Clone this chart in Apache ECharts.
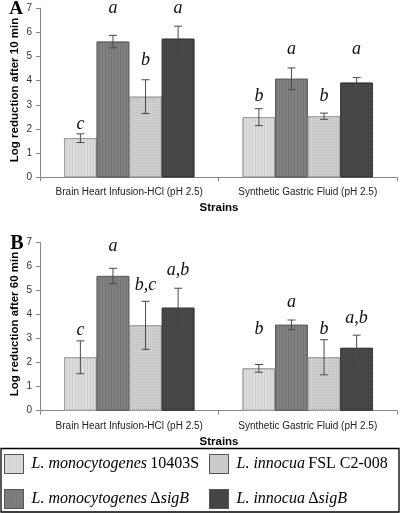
<!DOCTYPE html>
<html><head><meta charset="utf-8">
<script src="https://cdn.jsdelivr.net/npm/echarts@6/dist/echarts.min.js"></script>
<style>html,body{margin:0;padding:0;background:#fff}#c{width:400px;height:513px}</style>
</head><body><div id="c"></div>
<script>
const categories = ['Brain Heart Infusion-HCl (pH 2.5)', 'Synthetic Gastric Fluid (pH 2.5)'];
const strains = ['L. monocytogenes 10403S', 'L. monocytogenes ΔsigB', 'L. innocua FSL C2-008', 'L. innocua ΔsigB'];
const yTicks = [0, 1, 2, 3, 4, 5, 6, 7];

// Panel A: 10 min
const valuesA = [[1.62, 2.49], [5.62, 4.08], [3.34, 2.53], [5.74, 3.92]];
const errorsA = [[0.18, 0.35], [0.26, 0.45], [0.70, 0.13], [0.52, 0.21]];
const lettersA = [['c', 'b'], ['a', 'a'], ['b', 'b'], ['a', 'a']];
const letterYA = [[2.21, 3.34], [7.01, 5.31], [4.83, 3.34], [7.01, 5.31]];
// Panel B: 60 min
const valuesB = [[2.22, 1.76], [5.60, 3.57], [3.55, 2.22], [4.28, 2.61]];
const errorsB = [[0.68, 0.16], [0.32, 0.20], [1.00, 0.73], [0.81, 0.53]];
const lettersB = [['c', 'b'], ['a', 'a'], ['b,c', 'b'], ['a,b', 'a,b']];
const letterYB = [[3.35, 3.37], [6.83, 4.51], [5.21, 3.37], [5.82, 3.84]];

const colors = ['#dcdcdc', '#808080', '#d2d2d2', '#4a4a4a'];
const borders = ['#999999', '#5a5a5a', '#999999', '#333333'];
const decals = [
  {symbol: 'rect', symbolSize: 1, color: 'rgba(185,185,185,0.4)', dashArrayX: [1, 2], dashArrayY: [1, 0], rotation: 0},
  {symbol: 'rect', symbolSize: 1, color: 'rgba(100,100,100,0.4)', dashArrayX: [1, 2], dashArrayY: [1, 0], rotation: 0},
  {symbol: 'rect', symbolSize: 1, color: 'rgba(160,160,160,0.55)', dashArrayX: [1, 1], dashArrayY: [1, 1], rotation: 0},
  {symbol: 'rect', symbolSize: 1, color: 'rgba(40,40,40,0.45)', dashArrayX: [1, 1], dashArrayY: [1, 1], rotation: 0}
];
const GAP = 0.27;
const sans = 'Liberation Sans, Arial, sans-serif';
const serif = 'Liberation Serif, Times New Roman, serif';

function xAxisFor(gi) {
  return {
    type: 'category', gridIndex: gi, data: categories,
    axisLine: {lineStyle: {color: '#888'}},
    axisTick: {show: true, length: 4, lineStyle: {color: '#888'}},
    axisLabel: {interval: 0, fontFamily: sans, fontSize: 10, color: '#222', margin: gi === 0 ? 10 : 11}
  };
}
function yAxisFor(gi) {
  return {
    type: 'value', gridIndex: gi, min: yTicks[0], max: yTicks[yTicks.length - 1], interval: 1,
    splitLine: {show: false},
    axisLine: {show: true, lineStyle: {color: '#888'}},
    axisTick: {show: true, length: 4, lineStyle: {color: '#888'}},
    axisLabel: {fontFamily: sans, fontSize: 10, color: '#333', margin: 8}
  };
}

const series = [];
function addPanel(gi, values, errors, letters, letterY) {
  for (let s = 0; s < 4; s++) {
    series.push({
      type: 'bar', name: strains[s], xAxisIndex: gi, yAxisIndex: gi,
      data: values[s], barGap: 0, barCategoryGap: (GAP * 100) + '%',
      itemStyle: {color: colors[s], borderColor: borders[s], borderWidth: 0.8, decal: decals[s]},
      emphasis: {disabled: true}, animation: false
    });
  }
  for (let s = 0; s < 4; s++) {
    const data = values[s].map((v, i) => [i, v, errors[s][i], letterY[s][i]]);
    series.push({
      type: 'custom', xAxisIndex: gi, yAxisIndex: gi, z: 5, clip: false, animation: false,
      encode: {x: 0, y: 1},
      data: data,
      renderItem: function (params, api) {
        const i = api.value(0), v = api.value(1), e = api.value(2), ly = api.value(3);
        const base = api.coord([i, 0]);
        const catW = api.size([1, 0])[0];
        const bw = catW * (1 - GAP) / 4;
        const cx = base[0] + (s - 1.5) * bw;
        const yt = api.coord([i, v + e])[1];
        const yb = api.coord([i, v - e])[1];
        const yl = api.coord([i, ly])[1];
        const st = {stroke: '#4a4a4a', lineWidth: 1};
        const cap = 4;
        return {type: 'group', children: [
          {type: 'line', shape: {x1: cx, y1: yt, x2: cx, y2: yb}, style: st},
          {type: 'line', shape: {x1: cx - cap, y1: yt, x2: cx + cap, y2: yt}, style: st},
          {type: 'line', shape: {x1: cx - cap, y1: yb, x2: cx + cap, y2: yb}, style: st},
          {type: 'text', x: cx, y: yl, style: {text: letters[s][i], fontFamily: serif, fontStyle: 'italic', fontSize: 18, fill: '#111', textAlign: 'center', textVerticalAlign: 'middle'}}
        ]};
      }
    });
  }
}
addPanel(0, valuesA, errorsA, lettersA, letterYA);
addPanel(1, valuesB, errorsB, lettersB, letterYB);

const legendText = {
  'L. monocytogenes 10403S': '{i|L. monocytogenes} {n|10403S}',
  'L. monocytogenes ΔsigB': '{i|L. monocytogenes} {n|Δ}{i|sigB}',
  'L. innocua FSL C2-008': '{i|L. innocua} {n|FSL C2-008}',
  'L. innocua ΔsigB': '{i|L. innocua} {n|Δ}{i|sigB}'
};
const legendRich = {
  i: {fontFamily: serif, fontStyle: 'italic', fontSize: 16, color: '#000'},
  n: {fontFamily: serif, fontSize: 16, color: '#000'}
};
function legendFor(left, top, name) {
  return {
    orient: 'horizontal', left: left, top: top, itemWidth: 19, itemHeight: 19, padding: 0,
    icon: 'rect', selectedMode: false, data: [name],
    itemStyle: {borderColor: '#555', borderWidth: 1},
    formatter: n => legendText[n],
    textStyle: {rich: legendRich, padding: [0, 0, 0, 3]}
  };
}

const option = {
  animation: false,
  grid: [
    {left: 40, right: 3, top: 8.3, bottom: 335.7},
    {left: 40, right: 3, top: 242.3, bottom: 102.3}
  ],
  xAxis: [xAxisFor(0), xAxisFor(1)],
  yAxis: [yAxisFor(0), yAxisFor(1)],
  legend: [
    legendFor(4, 454, strains[0]), legendFor(4, 489, strains[1]),
    legendFor(209, 454, strains[2]), legendFor(209, 489, strains[3])
  ],
  series: series,
  graphic: [
    {type: 'text', x: 15, y: 90, rotation: Math.PI / 2, style: {text: 'Log reduction after 10 min', fontFamily: sans, fontWeight: 'bold', fontSize: 11.5, fill: '#000', textAlign: 'center', textVerticalAlign: 'middle'}},
    {type: 'text', x: 15, y: 324, rotation: Math.PI / 2, style: {text: 'Log reduction after 60 min', fontFamily: sans, fontWeight: 'bold', fontSize: 11.5, fill: '#000', textAlign: 'center', textVerticalAlign: 'middle'}},
    {type: 'text', x: 16, y: 9, style: {text: 'A', fontFamily: serif, fontWeight: 'bold', fontSize: 19, fill: '#000', textAlign: 'center', textVerticalAlign: 'middle'}},
    {type: 'text', x: 17, y: 244, style: {text: 'B', fontFamily: serif, fontWeight: 'bold', fontSize: 20, fill: '#000', textAlign: 'center', textVerticalAlign: 'middle'}},
    {type: 'text', x: 219, y: 208, style: {text: 'Strains', fontFamily: sans, fontWeight: 'bold', fontSize: 11.5, fill: '#000', textAlign: 'center', textVerticalAlign: 'middle'}},
    {type: 'text', x: 219, y: 442, style: {text: 'Strains', fontFamily: sans, fontWeight: 'bold', fontSize: 11.5, fill: '#000', textAlign: 'center', textVerticalAlign: 'middle'}},
    {type: 'rect', shape: {x: 1, y: 448.5, width: 398, height: 63.5}, style: {fill: 'none', stroke: '#000', lineWidth: 1.3}}
  ]
};
const chart = echarts.init(document.getElementById('c'), null, {renderer: 'canvas'});
chart.setOption(option);
</script></body></html>
